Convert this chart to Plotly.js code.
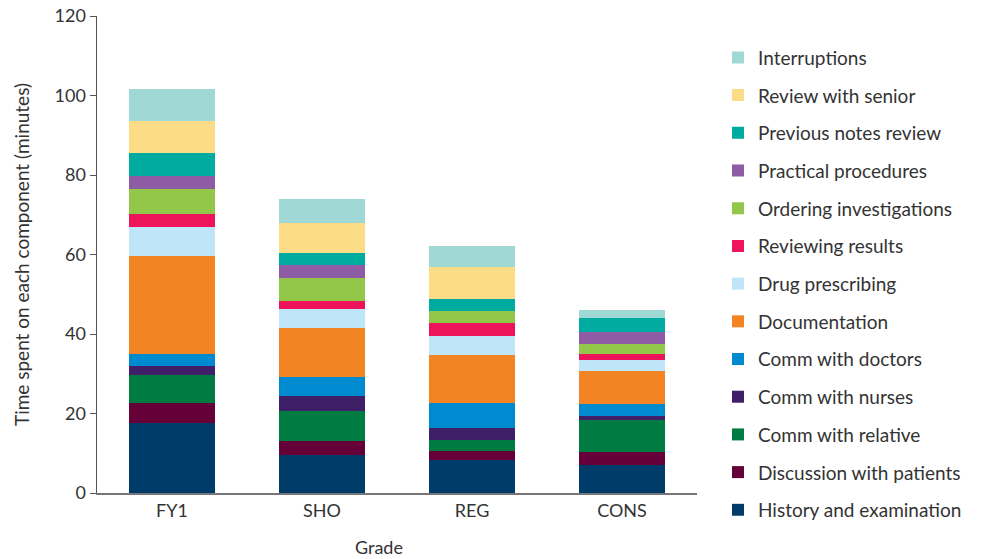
<!DOCTYPE html>
<html>
<head>
<meta charset="utf-8">
<script src="https://cdn.plot.ly/plotly-3.0.1.min.js"></script>
<style>html,body{margin:0;padding:0;background:#fff}#chart{width:983px;height:559px}</style>
</head>
<body>
<div id="chart"></div>
<script>
const grades = ["FY1", "SHO", "REG", "CONS"];
const components = ["History and examination", "Discussion with patients", "Comm with relative", "Comm with nurses", "Comm with doctors", "Documentation", "Drug prescribing", "Reviewing results", "Ordering investigations", "Practical procedures", "Previous notes review", "Review with senior", "Interruptions"];
const history = [17.6, 9.5, 8.2, 7.0];
const discussion = [5.0, 3.5, 2.4, 3.3];
const relative = [7.0, 7.6, 2.7, 8.1];
const nurses = [2.4, 3.8, 3.0, 1.0];
const doctors = [3.0, 4.7, 6.4, 3.0];
const documentation = [24.7, 12.5, 12.1, 8.3];
const drug = [7.2, 4.7, 4.7, 2.8];
const results = [3.4, 2.0, 3.3, 1.5];
const ordering = [6.2, 5.8, 3.0, 2.5];
const practical = [3.3, 3.2, 0, 3.1];
const previousNotes = [5.8, 3.1, 3.1, 3.5];
const senior = [8.0, 7.5, 8.0, 0];
const interruptions = [8.1, 6.0, 5.2, 2.0];
const yTicks = [0, 20, 40, 60, 80, 100, 120];

const series = [history, discussion, relative, nurses, doctors, documentation, drug, results, ordering, practical, previousNotes, senior, interruptions];
const colors = ["#003C69", "#660038", "#007C42", "#3F1F68", "#008BD0", "#F38424", "#BEE6F8", "#EE145B", "#92C74A", "#8E5BA5", "#00ABA0", "#FDDC87", "#A0D8D6"];

const data = series.map((vals, i) => ({
  type: "bar",
  x: grades,
  y: vals,
  name: components[i],
  legendgroup: components[i],
  legendrank: 1000 - i,
  marker: {color: colors[i], line: {width: 0}},
  hoverinfo: "name+y"
}));

const layout = {
  width: 983, height: 559,
  margin: {l: 97, r: 286, t: 16, b: 66, autoexpand: false},
  barmode: "stack",
  bargap: 0.43,
  paper_bgcolor: "#fff",
  plot_bgcolor: "#fff",
  font: {family: "Lato, 'Open Sans', sans-serif", color: "#333", size: 18},
  xaxis: {
    showline: true, linecolor: "#777", linewidth: 2,
    ticks: "", tickfont: {size: 18, color: "#333"},
    showgrid: false, zeroline: false, automargin: false
  },
  yaxis: {
    range: [0, 120], tickvals: yTicks, ticktext: yTicks.map(String),
    showline: true, linecolor: "#555", linewidth: 1.5,
    ticks: "outside", ticklen: 6, tickcolor: "#555",
    tickfont: {size: 18, color: "#333"},
    showgrid: false, zeroline: false, automargin: false,
    title: {text: "Time spent on each component (minutes)", font: {size: 19, color: "#333"}, standoff: 20}
  },
  legend: {
    x: 1.035, xanchor: "left", yref: "container", y: 0.931, yanchor: "top",
    traceorder: "grouped", tracegroupgap: 10, maxheight: 559,
    font: {size: 19, color: "#333"},
    bgcolor: "rgba(0,0,0,0)"
  },
  annotations: [{
    text: "Grade", xref: "paper", yref: "paper", x: 0.47, y: -0.113, xanchor: "center", yanchor: "middle",
    showarrow: false, font: {size: 18, color: "#333"}
  }]
};

Plotly.newPlot("chart", data, layout, {displayModeBar: false, staticPlot: true});
</script>
</body>
</html>
